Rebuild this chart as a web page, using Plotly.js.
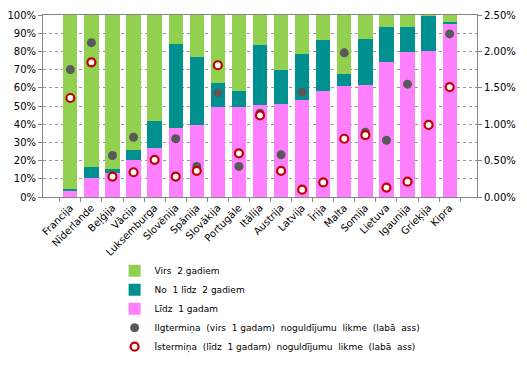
<!DOCTYPE html>
<html><head><meta charset="utf-8">
<script src="https://cdn.plot.ly/plotly-3.0.1.min.js"></script>
<style>html,body{margin:0;padding:0;background:#fff;}#c{width:527px;height:366px;}</style>
</head><body><div id="c"></div>
<script>
const cats = ["Francija","Nīderlande","Beļģija","Vācija","Luksemburga","Slovēnija","Spānija","Slovākija","Portugāle","Itālija","Austrija","Latvija","Īrija","Malta","Somija","Lietuva","Igaunija","Grieķija","Kipra"];
const lidz1 = [3.5,10.6,13.0,20.5,27.1,37.7,39.7,49.2,49.2,50.6,51.2,53.4,58.3,61.1,61.6,74.4,79.9,80.3,95.2];
const no1lidz2 = [1.1,5.7,2.5,5.5,14.8,46.6,37.3,13.5,9.1,32.9,18.6,25.2,28.0,6.5,25.2,19.0,13.5,19.3,1.0];
const virs2 = [95.4,83.7,84.5,74.0,58.1,15.7,23.0,37.3,41.7,16.5,30.2,21.4,13.7,32.4,13.2,6.6,6.6,0.4,3.8];
const ilgterm = [1.75,2.12,0.57,0.82,null,0.80,0.42,1.43,0.42,1.15,0.58,1.44,null,1.98,0.89,0.78,1.55,null,2.24];
const isterm = [1.36,1.85,0.28,0.34,0.51,0.28,0.36,1.81,0.60,1.12,0.36,0.10,0.20,0.80,0.85,0.13,0.21,0.99,1.51];
const F = "DejaVu Sans";
const traces = [
 {type:'bar',x:cats,y:lidz1,name:'Līdz  1 gadam',marker:{color:'#FF80FF'},legendrank:3},
 {type:'bar',x:cats,y:no1lidz2,name:'No  1 līdz  2 gadiem',marker:{color:'#009090'},legendrank:2},
 {type:'bar',x:cats,y:virs2,name:'Virs  2 gadiem',marker:{color:'#92D050'},legendrank:1},
 {type:'scatter',mode:'markers',x:cats,y:ilgterm,yaxis:'y2',name:'Ilgtermiņa  (virs  1 gadam)  noguldījumu  likme  (labā  ass)',marker:{color:'#595959',size:9},legendrank:4},
 {type:'scatter',mode:'markers',x:cats,y:isterm,yaxis:'y2',name:'Īstermiņa  (līdz  1 gadam)  noguldījumu  likme  (labā  ass)',marker:{color:'#FFFFFF',size:8,line:{color:'#C00000',width:2.2}},legendrank:5}
];
const layout = {
 width:527,height:366,barmode:'stack',bargap:0.32,
 margin:{l:43,r:50,t:15,b:169},
 paper_bgcolor:'#fff',plot_bgcolor:'#fff',
 font:{family:F,size:10,color:'#000'},
 showlegend:true,
 legend:{x:0.165,y:0.30,yref:'container',xanchor:'left',yanchor:'top',traceorder:'normal',font:{family:F,size:9},itemwidth:30,tracegroupgap:0,bgcolor:'rgba(0,0,0,0)'},
 xaxis:{type:'category',automargin:false,tickangle:-45,tickson:'boundaries',ticks:'outside',ticklen:4,tickcolor:'#868686',showline:true,linecolor:'#868686',mirror:true,showgrid:false,tickfont:{family:F,size:10}},
 yaxis:{automargin:false,range:[0,100],dtick:10,ticksuffix:'%',ticks:'outside',ticklen:4,tickcolor:'#868686',showline:true,linecolor:'#868686',showgrid:true,gridcolor:'#999',griddash:'dot',gridwidth:1,zeroline:false,tickfont:{family:F,size:10}},
 yaxis2:{automargin:false,overlaying:'y',side:'right',range:[0,2.5],dtick:0.5,tickformat:'.2f',ticksuffix:'%',ticks:'outside',ticklen:4,tickcolor:'#868686',showline:true,linecolor:'#868686',showgrid:false,zeroline:false,tickfont:{family:F,size:10}}
};
Plotly.newPlot('c',traces,layout,{displayModeBar:false,staticPlot:true});
</script></body></html>
